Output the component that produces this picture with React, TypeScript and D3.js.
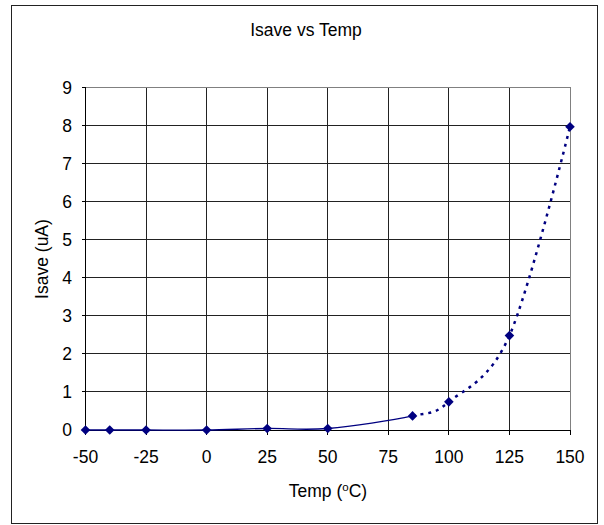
import React from 'react';
import * as d3 from 'd3';

// Chart values
const temps = [-50, -40, -25, 0, 25, 50, 85, 100, 125, 150];
const isave = [0, 0, 0, 0, 0.04, 0.04, 0.37, 0.74, 2.48, 7.97];
const xTicks = [-50, -25, 0, 25, 50, 75, 100, 125, 150];
const yTicks = [0, 1, 2, 3, 4, 5, 6, 7, 8, 9];
const dottedFrom = 85; // series switches to a dotted line from here on

const W = 604;
const H = 525;
const margin = { top: 87.5, right: 34, bottom: 95, left: 85.5 };
const font = '"Liberation Sans", Arial, sans-serif';
const navy = '#000080';
const fs = 17.5;

export default function App() {
  const x = d3.scaleLinear().domain([-50, 150]).range([margin.left, W - margin.right]);
  const y = d3.scaleLinear().domain([0, 9]).range([H - margin.bottom, margin.top]);
  // pixel-snapped positions for the crisp grid
  const px = (t: number) => Math.round(x(t) - 0.5) + 0.5;
  const py = (t: number) => Math.round(y(t) - 0.5) + 0.5;

  const points = temps.map((t, i) => ({ t, v: isave[i] }));
  const line = d3
    .line<{ t: number; v: number }>()
    .curve(d3.curveCardinal.tension(0))
    .x(d => x(d.t))
    .y(d => y(d.v));
  const path = line(points) || '';

  const x0 = px(-50);
  const x1 = px(150);
  const yTop = py(9);
  const yBot = py(0);
  const xSplit = x(dottedFrom);

  const diamond = d3.symbol().type(d3.symbolSquare).size(46)() || '';

  return (
    <svg
      width={W}
      height={H}
      style={{ position: 'absolute', left: 0, top: 0, background: '#fff' }}
      fontFamily={font}
    >
      <defs>
        <clipPath id="solidPart">
          <rect x={0} y={0} width={xSplit} height={H} />
        </clipPath>
        <clipPath id="dottedPart">
          <rect x={xSplit} y={0} width={W - xSplit} height={H} />
        </clipPath>
      </defs>

      {/* chart frame */}
      <rect x={11.5} y={5.5} width={586} height={518} fill="#fff" stroke="#222" strokeWidth={1} />

      <text x={306} y={36} textAnchor="middle" fontSize={fs} fill="#000">
        Isave vs Temp
      </text>

      {/* gridlines */}
      <g shapeRendering="crispEdges">
        {yTicks.map(t => (
          <line key={'gy' + t} x1={x0} x2={x1} y1={py(t)} y2={py(t)} stroke="#222" strokeWidth={1} />
        ))}
        {xTicks.map(t => (
          <line key={'gx' + t} x1={px(t)} x2={px(t)} y1={yTop} y2={yBot} stroke="#222" strokeWidth={1} />
        ))}
        <line x1={x0} x2={x1} y1={yTop} y2={yTop} stroke="#808080" />
        <line x1={x1} x2={x1} y1={yTop} y2={yBot} stroke="#808080" />

        {/* axes */}
        <line x1={x0} x2={x0} y1={yTop} y2={yBot} stroke="#000" strokeWidth={1} />
        <line x1={x0} x2={x1} y1={yBot} y2={yBot} stroke="#000" strokeWidth={1} />
        {yTicks.map(t => (
          <line key={'ty' + t} x1={x0 - 4} x2={x0} y1={py(t)} y2={py(t)} stroke="#000" />
        ))}
        {xTicks.map(t => (
          <line key={'tx' + t} x1={px(t)} x2={px(t)} y1={yBot} y2={yBot + 4} stroke="#000" />
        ))}
      </g>

      {yTicks.map(t => (
        <text key={'ly' + t} x={72} y={y(t)} dy="0.35em" textAnchor="end" fontSize={fs} fill="#000">
          {t}
        </text>
      ))}
      {xTicks.map(t => (
        <text key={'lx' + t} x={x(t)} y={463} textAnchor="middle" fontSize={fs} fill="#000">
          {t}
        </text>
      ))}

      <text
        transform={`translate(48,${(yTop + yBot) / 2}) rotate(-90)`}
        textAnchor="middle"
        fontSize={fs}
        fill="#000"
      >
        Isave (uA)
      </text>
      <text x={(x0 + x1) / 2} y={497} textAnchor="middle" fontSize={fs} fill="#000">
        Temp (<tspan dy={-6} fontSize={11.5}>o</tspan>
        <tspan dy={6}>C)</tspan>
      </text>

      {/* series */}
      <path d={path} fill="none" stroke={navy} strokeWidth={1.3} clipPath="url(#solidPart)" />
      <path
        d={path}
        fill="none"
        stroke={navy}
        strokeWidth={2.5}
        strokeDasharray="3,5"
        clipPath="url(#dottedPart)"
      />
      {points.map(p => (
        <path
          key={'m' + p.t}
          d={diamond}
          transform={`translate(${x(p.t)},${y(p.v)}) rotate(45)`}
          fill={navy}
        />
      ))}
    </svg>
  );
}
